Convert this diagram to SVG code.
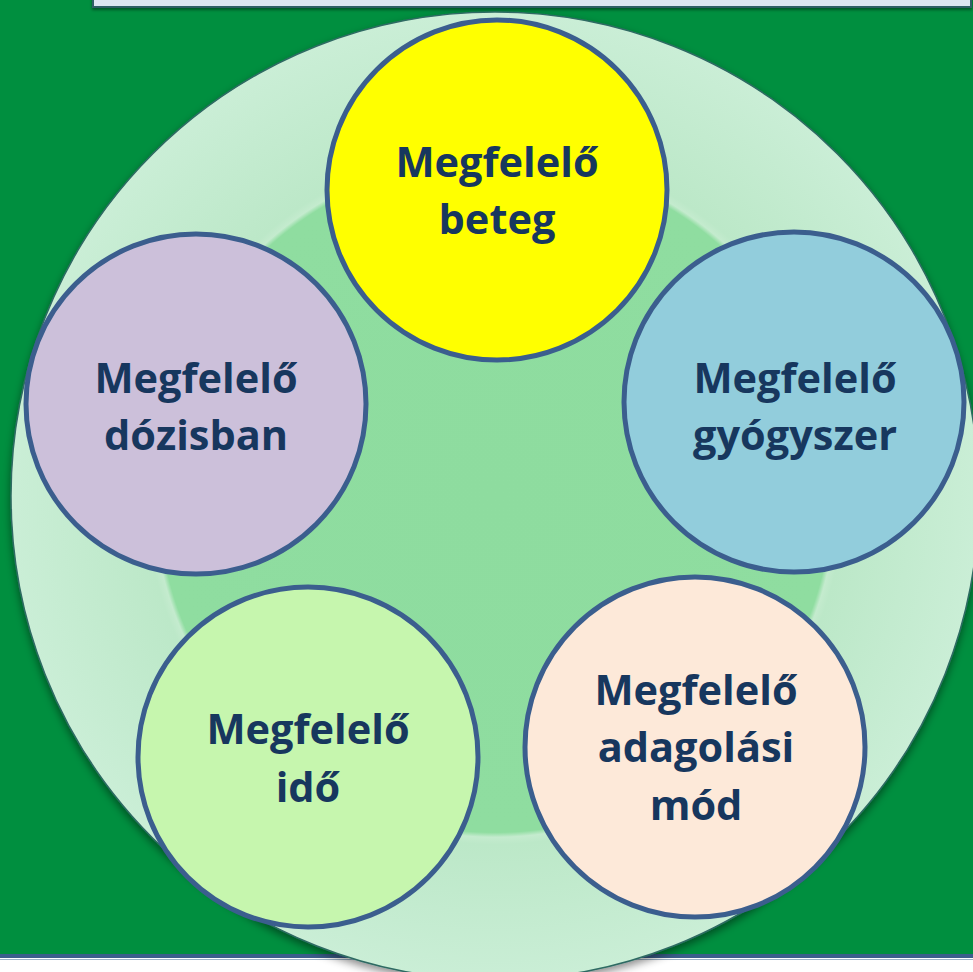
<svg xmlns="http://www.w3.org/2000/svg" width="973" height="972" viewBox="0 0 973 972">
  <style>
    .node { stroke: #3B5E8E; stroke-width: 5; }
    .label { font-family: "Open Sans", "Liberation Sans", sans-serif; font-weight: 700; font-size: 41.5px; fill: #17375E; text-anchor: middle; }
  </style>
  <defs>
    <radialGradient id="ringFill" cx="495" cy="496" r="484" gradientUnits="userSpaceOnUse">
      <stop offset="0" stop-color="#8EDC9F"/>
      <stop offset="0.695" stop-color="#8FDDA0"/>
      <stop offset="0.705" stop-color="#C4EBCE"/>
      <stop offset="0.72" stop-color="#BCE8C8"/>
      <stop offset="1" stop-color="#CAEED6"/>
    </radialGradient>
    <filter id="discShadow" x="-10%" y="-10%" width="120%" height="125%">
      <feDropShadow dx="0" dy="4" stdDeviation="4" flood-color="#000" flood-opacity="0.45"/>
    </filter>
    <filter id="boxShadow" x="-5%" y="-50%" width="110%" height="200%">
      <feDropShadow dx="0" dy="2" stdDeviation="1.5" flood-color="#000" flood-opacity="0.4"/>
    </filter>
  </defs>

  <!-- page background -->
  <rect x="0" y="0" width="973" height="972" fill="#FFFFFF"/>
  <rect x="-10" y="-10" width="993" height="966" fill="#008F3F" stroke="#3B5E8C" stroke-width="4"/>
  <line x1="0" y1="959.5" x2="973" y2="959.5" stroke="#9DB3C9" stroke-width="1"/>

  <!-- title box (top, mostly cut off) -->
  <rect x="93" y="-20" width="878" height="27" fill="#DCE6F2" stroke="#2E5F66" stroke-width="2" filter="url(#boxShadow)"/>

  <!-- large backing disc -->
  <g id="backdrop">
    <circle cx="495" cy="496" r="484" fill="url(#ringFill)" stroke="#2F6B63" stroke-width="1.5" filter="url(#discShadow)"/>
  </g>

  <g id="node-beteg">
    <circle class="node" cx="497" cy="190" r="170" fill="#FFFF00"/>
    <text class="label" x="497" y="177">Megfelelő</text>
    <text class="label" x="497" y="234">beteg</text>
  </g>

  <g id="node-gyogyszer">
    <circle class="node" cx="794" cy="402" r="170" fill="#92CDDC"/>
    <text class="label" x="795" y="393">Megfelelő</text>
    <text class="label" x="795" y="450">gyógyszer</text>
  </g>

  <g id="node-adagolasi-mod">
    <circle class="node" cx="695" cy="747" r="170" fill="#FDE9D9"/>
    <text class="label" x="696" y="705">Megfelelő</text>
    <text class="label" x="696" y="762">adagolási</text>
    <text class="label" x="696" y="820">mód</text>
  </g>

  <g id="node-ido">
    <circle class="node" cx="308" cy="757" r="170" fill="#C6F6AE"/>
    <text class="label" x="308" y="744">Megfelelő</text>
    <text class="label" x="308" y="802">idő</text>
  </g>

  <g id="node-dozisban">
    <circle class="node" cx="196" cy="404" r="170" fill="#CCC0DA"/>
    <text class="label" x="196" y="393">Megfelelő</text>
    <text class="label" x="196" y="450">dózisban</text>
  </g>
</svg>
